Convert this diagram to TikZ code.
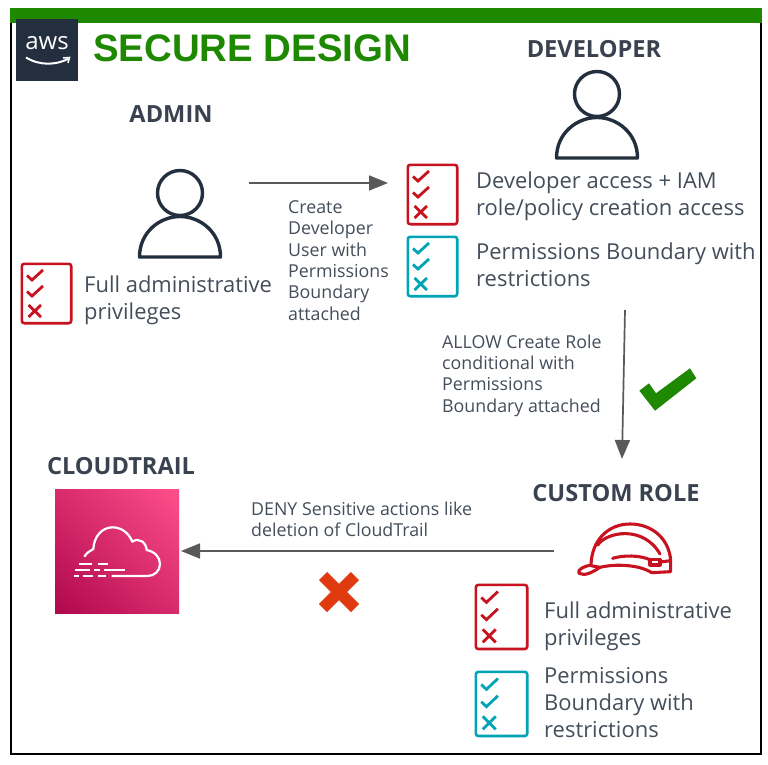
\documentclass[tikz,border=0pt]{standalone}
\usepackage{fontspec}
\setmainfont{Open Sans}
\newfontfamily\titlefont{Liberation Sans}
\usetikzlibrary{arrows.meta,shadings}
\definecolor{awsdark}{HTML}{232F3E}
\definecolor{txtgrey}{HTML}{444E5A}
\definecolor{headgrey}{HTML}{39424E}
\definecolor{arrgrey}{HTML}{595959}
\definecolor{barGreen}{HTML}{1E8900}
\definecolor{chkred}{HTML}{C7131F}
\definecolor{chkteal}{HTML}{00A4B4}
\definecolor{xred}{HTML}{E03A10}
\definecolor{ctlow}{HTML}{B0084D}
\definecolor{cthigh}{HTML}{FF4F8B}
\definecolor{ctmid}{HTML}{D72B6C}
\tikzset{
  body/.style={anchor=north west,inner sep=0pt,align=left,text=txtgrey,font=\fontsize{21.95}{27}\selectfont},
  small/.style={anchor=north west,inner sep=0pt,align=left,text=txtgrey,font=\fontsize{17.8}{21.3}\selectfont},
  head/.style={inner sep=0pt,text=headgrey,font=\fontsize{23.6}{27}\selectfont\bfseries},
  flow/.style={draw=arrgrey,line width=1.7pt,-{Triangle[length=19pt,width=15pt]}},
  usr/.style={draw=awsdark,line width=3.4pt,line join=round},
  chk/.style={line width=2.8pt,line join=miter},
  chkbox/.style={line width=2.6pt,rounded corners=2.5pt},
  hat/.style={draw=chkred,line width=3.1pt,line join=round,line cap=round},
  trail/.style={draw=white,line width=2.2pt}
}
\newcommand{\chklist}[5]{%
  \begin{scope}[shift={(#1,#2)},xscale=#3,yscale=#4]
    \draw[chkbox,draw=#5] (0.8,0.8) rectangle (50.2,60.2);
    \draw[chk,draw=#5] (6,12.5) -- (11,17) -- (22,7);
    \draw[chk,draw=#5] (6,28.5) -- (11,33) -- (22,23);
    \draw[chk,draw=#5] (7.5,42) -- (20,54) (20,42) -- (7.5,54);
  \end{scope}}
\newcommand{\person}[2]{%
  \begin{scope}[shift={(#1,#2)}]
    \draw[usr] (0,-1) circle (22.5);
    \draw[usr] (-40.5,63) .. controls (-40.5,38) and (-20,22.5) .. (0,22.5) .. controls (20,22.5) and (40.5,38) .. (40.5,63) -- cycle;
  \end{scope}}
\begin{document}
\begin{tikzpicture}[x=1pt,y=-1pt]
\useasboundingbox (0,0) rectangle (768,765);
\fill[white] (0,0) rectangle (768,765);
% frame and bar
\draw[black,line width=2.6pt] (11,20) rectangle (761,754);
\fill[barGreen] (10,8) rectangle (762,23);
% logo
\fill[awsdark] (16,19) rectangle (78,81);
\node[inner sep=0pt,text=white,font=\fontsize{24}{24}\selectfont] (awslogo) at (47,43) {aws};
\draw[white,line width=2pt] (26,57.5) .. controls (40,66) and (56,65) .. (68,59);
\draw[white,line width=1.5pt] (63,58) -- (69.5,57.5) -- (68,63);
% title
\node[anchor=west,inner sep=0pt,text=barGreen,font=\fontsize{38.4}{40}\selectfont\titlefont\bfseries] (title) at (93,48) {SECURE DESIGN};
% headers
\node[head] (adminh) at (171,114) {ADMIN};
\node[head] (devh) at (594,49) {DEVELOPER};
\node[head] (cloudh) at (121,466) {CLOUDTRAIL};
\node[head] (roleh) at (616,493) {CUSTOM ROLE};
% people
\person{180}{194}
\person{597}{95}
% checklists
\chklist{21}{263}{1}{1}{chkred}
\chklist{407}{164}{1}{1}{chkred}
\chklist{407}{236}{1}{1}{chkteal}
\chklist{475}{584}{1.04}{1.08}{chkred}
\chklist{475}{671}{1.04}{1.08}{chkteal}
% texts
\node[body] (t1) at (84,276) {Full administrative\\privileges};
\node[body] (t2) at (476,172) {Developer access + IAM\\role/policy creation access};
\node[body] (t3) at (476,242.5) {Permissions Boundary with\\restrictions};
\node[body] (t4) at (544,602) {Full administrative\\privileges};
\node[body] (t5) at (544,667) {Permissions\\Boundary with\\restrictions};
\node[small] (l1) at (288,200.5) {Create\\Developer\\User with\\Permissions\\Boundary\\attached};
\node[small] (l2) at (442,334.5) {ALLOW Create Role\\conditional with\\Permissions\\Boundary attached};
\node[small] (l3) at (251,501.5) {DENY Sensitive actions like\\deletion of CloudTrail};
% cloudtrail icon
\shade[lower left=ctlow,upper right=cthigh,upper left=ctmid,lower right=ctmid] (55,489) rectangle (179,613);
\coordinate (ctedge) at (181,551);
\begin{scope}[shift={(30,470)},scale=1/3]
  \draw[trail,line join=round] (163,260) .. controls (170,248) and (180,243) .. (190,237) .. controls (192,200) and (215,172) .. (248,172) .. controls (275,172) and (297,190) .. (307,215) .. controls (325,202) and (348,215) .. (350,240) .. controls (375,245) and (390,262) .. (390,282) .. controls (390,303) and (373,318) .. (353,318) -- (245,318);
  \draw[trail] (147,282) -- (185,282) (203,282) -- (233,282)
    (135,300) -- (180,300) (192,300) -- (210,300) (222,300) -- (285,300)
    (132,318) -- (147,318) (158,318) -- (190,318) (203,318) -- (228,318);
\end{scope}
% helmet
\begin{scope}[shift={(460,510)},scale=1/3]
  \draw[hat,fill=white] (393,165) .. controls (395,90) and (445,42) .. (510,42) .. controls (580,42) and (628,90) .. (632,152) -- (632,185) -- (575,188) .. controls (540,165) and (470,160) .. (420,172) .. controls (400,185) and (375,200) .. (357,190) .. controls (350,178) and (375,168) .. (393,165) -- cycle;
  \draw[hat] (413,105) .. controls (440,65) and (550,45) .. (600,132);
  \draw[hat] (458,145) .. controls (490,135) and (540,135) .. (572,150);
  \draw[hat] (393,167) -- (420,172);
  \draw[hat] (570,148) rectangle (600,165);
  \draw[hat] (600,156) -- (632,152);
\end{scope}
\coordinate (roleedge) at (554,551);
% arrows
\coordinate (a1s) at (249,183);
\coordinate (a1e) at (388,183);
\coordinate (a2s) at (625,310);
\coordinate (a2e) at (622,459);
\draw[flow] (a1s) -- (a1e);
\draw[flow] (a2s) -- (a2e);
\draw[flow] (roleedge) -- (ctedge);
% marks
\fill[barGreen] (639.3,390.7) -- (649,383.3) -- (656,393.3) -- (690,368.3) -- (696.3,378.3) -- (655,410.7) -- cycle;
\draw[xred,line width=11.5pt] (323,576) -- (355,608) (355,576) -- (323,608);
\end{tikzpicture}
\end{document}
